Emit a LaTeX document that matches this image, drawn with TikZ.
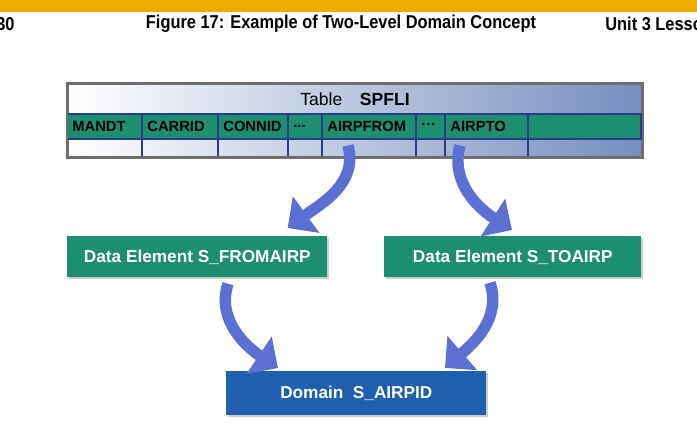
\documentclass[tikz,border=0pt]{standalone}
\usepackage{fontspec}
\setmainfont{Liberation Sans}
\newfontfamily\headfont[FakeStretch=0.88]{Liberation Sans}
\usetikzlibrary{arrows.meta, positioning, calc, shadows}

\definecolor{sapgold}{RGB}{240,171,0}
\definecolor{rowgreen}{RGB}{30,142,112}
\definecolor{rowline}{RGB}{40,60,140}
\definecolor{tblgray}{RGB}{110,110,110}
\definecolor{tblblue}{RGB}{118,142,192}
\definecolor{domblue}{RGB}{30,95,175}
\definecolor{arrowblue}{RGB}{92,112,212}

\newcommand{\lowdots}{...}
\newcommand{\middots}{···}

\tikzset{
    headtext/.style={font=\headfont\bfseries\fontsize{10.6}{12}\selectfont, inner sep=0},
    celltext/.style={anchor=west, text=black, font=\bfseries\fontsize{8.4}{10}\selectfont, inner sep=0},
    elembox/.style={fill=rowgreen, text=white, inner sep=0, anchor=north west,
        font=\bfseries\fontsize{9.8}{11}\selectfont,
        drop shadow={shadow xshift=1pt, shadow yshift=-1pt, fill=black!50, opacity=0.4}},
    fatarrow/.style={draw=arrowblue, line width=6.5pt, -{Triangle[length=13pt, width=25pt]}}
}

\begin{document}
\begin{tikzpicture}[x=0.02cm, y=0.02cm]
    \useasboundingbox (0,0) rectangle (697,-424);
    \clip (0,0) rectangle (697,-424);

    % page header
    \fill[sapgold] (0,0) rectangle (697,-12);
    \node[headtext, anchor=west] (pageno) at (-4,-24) {30};
    \node[headtext] (caption) at (341,-24) {Figure 17: Example of Two-Level Domain Concept};
    \node[headtext, anchor=west] (unit) at (605,-24) {Unit 3 Lesso};

    % table SPFLI
    \node[draw=tblgray, line width=1.2pt, left color=white, right color=tblblue,
          anchor=north west, inner sep=0, minimum width=11.48cm, minimum height=1.46cm] (spfli) at (67,-83) {};
    \node[font=\fontsize{10}{12}\selectfont] (title) at (355,-99) {Table\quad\textbf{SPFLI}};

    \fill[rowgreen] (67,-114) rectangle (641,-139);
    \foreach \xa/\xb/\lbl/\nm in {67/142/MANDT/mandt, 142/218/CARRID/carrid, 218/288/CONNID/connid,
            288/322/\lowdots/dotsa, 322/416/AIRPFROM/airpfrom, 416/445/\middots/dotsb, 445/528/AIRPTO/airpto, 528/641//rest}
    {
        \draw[rowline, line width=1.1pt] (\xa,-114) rectangle (\xb,-139);
        \draw[rowline, line width=0.6pt] (\xa,-139) -- (\xa,-156);
        \node[celltext] (\nm) at (\xa+5,-126.5) {\lbl};
    }
    \draw[tblgray, line width=1.2pt] (spfli.north west) rectangle (spfli.south east);

    % data elements and domain
    \node[elembox, minimum width=5.2cm, minimum height=0.82cm] (fromelem) at (67,-236) {Data Element S\_FROMAIRP};
    \node[elembox, minimum width=5.14cm, minimum height=0.82cm] (toelem) at (384,-236) {Data Element S\_TOAIRP};
    \node[elembox, fill=domblue, minimum width=5.2cm, minimum height=0.88cm] (domain) at (226,-371) {Domain~~S\_AIRPID};

    % arrows
    \draw[fatarrow] ($(airpfrom.west)+(21,-19)$) to[out=-75, in=36] ($(fromelem.north east)+(-40,8)$);
    \draw[fatarrow] ($(airpto.west)+(10,-19)$) to[out=-105, in=147] ($(toelem.north west)+(128,6)$);
    \draw[fatarrow] ($(fromelem.south west)+(161,-6)$) to[out=-108, in=146] ($(domain.north west)+(52,3)$);
    \draw[fatarrow] ($(toelem.south west)+(106,-5)$) to[out=-72, in=41] ($(domain.north west)+(219,3)$);
\end{tikzpicture}
\end{document}
